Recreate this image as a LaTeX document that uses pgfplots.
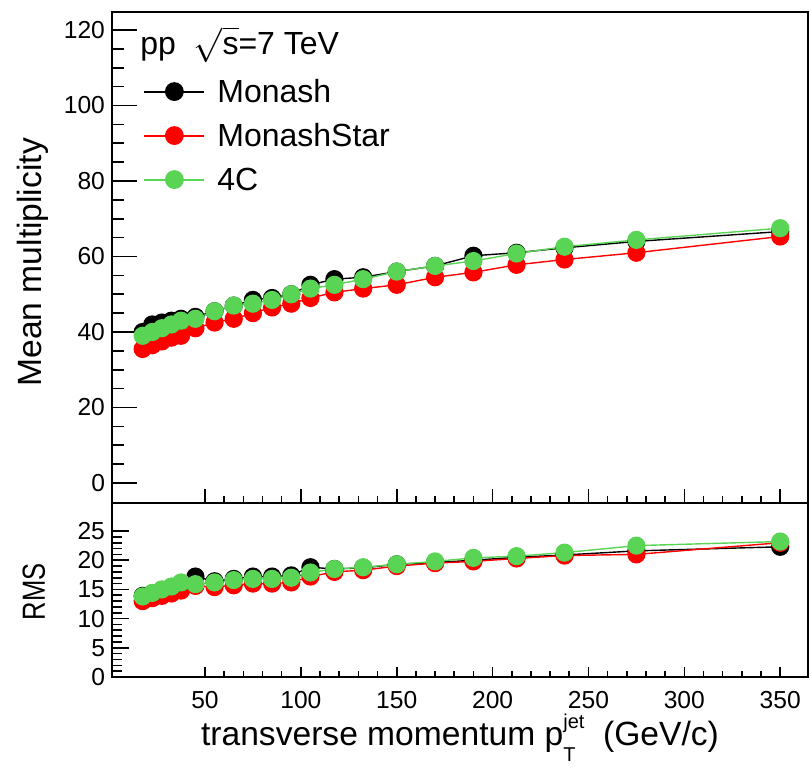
\documentclass[border=0pt]{standalone}
\usepackage{pgfplots}
\pgfplotsset{compat=1.18}
\usepackage{pgfplotstable}
\usepackage{fontspec}
\usepackage{amsmath}
\setmainfont{Liberation Sans}
\definecolor{rootgreen}{RGB}{89,212,84}
\definecolor{rootred}{RGB}{255,0,0}

% pt  Monash  MonashStar  4C
\pgfplotstableread{
pt     mon    star   fourc
17.5   40.0   35.5   39.0
22.5   42.0   36.5   40.0
27.5   42.5   37.5   41.0
32.5   43.0   38.5   42.0
37.5   43.5   39.0   43.0
45     44.0   41.0   43.5
55     45.5   42.5   45.5
65     47.0   43.5   47.0
75     48.5   45.0   47.5
85     49.0   46.5   48.5
95     50.0   47.5   50.0
105    52.5   49.0   51.5
117.5  54.0   50.5   52.5
132.5  54.5   51.5   54.0
150    56.0   52.5   56.0
170    57.5   54.5   57.5
190    60.2   55.8   58.8
212.5  61.0   57.8   60.8
237.5  62.3   59.2   62.6
275    64.0   61.0   64.4
350    66.6   65.3   67.5
}\meantab

\pgfplotstableread{
pt     mon    star   fourc
17.5   13.9   13.0   13.8
22.5   14.3   13.5   14.4
27.5   14.9   13.9   15.0
32.5   15.3   14.3   15.5
37.5   15.7   14.8   16.2
45     17.2   15.6   15.9
55     16.4   15.4   16.2
65     16.8   15.7   16.6
75     17.2   16.0   16.8
85     17.2   16.0   16.8
95     17.4   16.2   17.0
105    18.8   17.2   17.9
117.5  18.5   18.0   18.5
132.5  18.7   18.3   18.8
150    19.3   19.0   19.3
170    19.6   19.5   19.8
190    20.0   19.8   20.4
212.5  20.5   20.3   20.7
237.5  20.9   20.8   21.3
275    21.6   21.0   22.5
350    22.3   23.0   23.2
}\rmstab

\pgfplotsset{
  rootaxis/.style={
    scale only axis,
    anchor=south west,
    width=348pt,
    xmin=1.5, xmax=364.5,
    axis line style={line width=0.8pt},
    every tick/.style={black, line width=0.8pt},
    tick align=inside,
    xtick pos=bottom, ytick pos=left,
    tick label style={font=\fontsize{12.3}{14}\selectfont},
    label style={font=\fontsize{16.8}{19}\selectfont},
    /pgf/number format/assume math mode=true,
    clip=false,
  },
  xonly/.style={
    rootaxis,
    xtick={50,100,...,350},
    minor x tick num=4,
    ytick=\empty,
    axis line style={draw=none},
  },
  mk/.style={mark=*, mark size=4.2pt, line width=0.7pt},
}

\begin{document}
\begin{tikzpicture}
\path[use as bounding box] (0,0) rectangle (405pt,384pt);

% upper panel: x ticks only
\begin{axis}[xonly,
  at={(56pt,132.5pt)},
  height=245.65pt,
  ymin=-5.3, ymax=124.85,
  xticklabels={},
  major tick length=7pt, minor tick length=3.5pt,
]
\end{axis}

\begin{axis}[rootaxis,
  at={(56pt,132.5pt)},
  height=245.65pt,
  ymin=-5.3, ymax=124.85,
  xtick=\empty,
  ytick={0,20,...,120},
  minor y tick num=3,
  major tick length=12.5pt, minor tick length=6pt,
  ylabel={Mean multiplicity},
  ylabel style={at={(axis description cs:-0.101,0.49)}, anchor=base},
  legend style={at={(axis description cs:0.0445,0.8596)}, anchor=north west,
    draw=none, fill=none, font=\fontsize{16}{18}\selectfont,
    row sep=11.5pt, column sep=6pt, inner sep=0pt,
    nodes={inner sep=0pt, text height=10.5pt, text depth=0pt}},
  legend cell align=left,
  legend image code/.code={\draw[#1, line width=1pt, mark repeat=2, mark phase=2] plot coordinates {(0pt,0pt) (15pt,0pt) (30pt,0pt)};},
]
\addplot[black, mk, mark options={fill=black, draw=black}] table[x=pt, y=mon] {\meantab};
\addlegendentry{Monash}
\addplot[rootred, mk, mark options={fill=rootred, draw=rootred}] table[x=pt, y=star] {\meantab};
\addlegendentry{MonashStar}
\addplot[rootgreen, mk, mark options={fill=rootgreen, draw=rootgreen}] table[x=pt, y=fourc] {\meantab};
\addlegendentry{4C}
\node[anchor=base west, font=\fontsize{16}{18}\selectfont, inner sep=0pt] at (axis description cs:0.0402,0.9119) {pp\ \ $\sqrt{\text{s}}$=7 TeV};
\end{axis}

% lower panel: x ticks only
\begin{axis}[xonly,
  at={(56pt,45.5pt)},
  height=87pt,
  ymin=0, ymax=29.8,
  major tick length=5pt, minor tick length=3pt,
  xticklabel style={yshift=-3.4pt},
  xlabel={transverse momentum p\rlap{\raisebox{-8pt}{\fontsize{10}{10}\selectfont T}}\raisebox{8.5pt}{\fontsize{10}{10}\selectfont jet}\ \ (GeV/c)},
  xlabel style={at={(axis description cs:0.5,0)}, anchor=base, yshift=-34pt},
]
\end{axis}

\begin{axis}[rootaxis,
  at={(56pt,45.5pt)},
  height=87pt,
  ymin=0, ymax=29.8,
  xtick=\empty,
  ytick={0,5,...,25},
  minor y tick num=4,
  major tick length=8.5pt, minor tick length=5pt,
  ylabel={RMS},
  ylabel style={at={(axis description cs:-0.0963,0.49)}, anchor=base, font=\fontsize{16}{18}\selectfont, xscale=0.8},
]
\addplot[black, mk, mark options={fill=black, draw=black}] table[x=pt, y=mon] {\rmstab};
\addplot[rootred, mk, mark options={fill=rootred, draw=rootred}] table[x=pt, y=star] {\rmstab};
\addplot[rootgreen, mk, mark options={fill=rootgreen, draw=rootgreen}] table[x=pt, y=fourc] {\rmstab};
\end{axis}
\end{tikzpicture}
\end{document}
